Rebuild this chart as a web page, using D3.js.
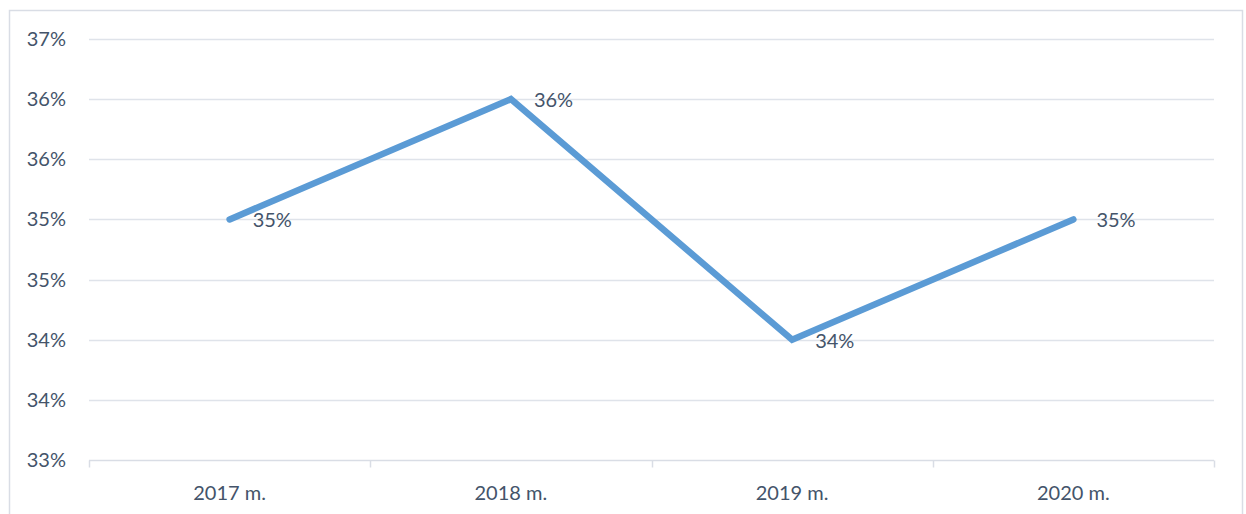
<!DOCTYPE html>
<html lang="en">
<head>
<meta charset="utf-8">
<script src="https://d3js.org/d3.v7.min.js"></script>
<style>
  body { margin: 0; background: #fff; }
  svg text { font-family: Lato, "Open Sans", sans-serif; fill: #44546a; }
</style>
</head>
<body>
<svg width="1246" height="514"></svg>
<script>
  // chart data
  var years = ["2017 m.", "2018 m.", "2019 m.", "2020 m."];
  var values = [35.0, 36.0, 34.0, 35.0];
  var valueLabels = ["35%", "36%", "34%", "35%"];
  var yTicks = [33, 33.5, 34, 34.5, 35, 35.5, 36, 36.5];
  var yTickLabels = ["33%", "34%", "34%", "35%", "35%", "36%", "36%", "37%"];

  var svg = d3.select("svg");
  var plotLeft = 89, plotRight = 1214, plotTop = 39, plotBottom = 460;
  var fontSize = "20px";

  // outer frame
  svg.append("rect")
     .attr("x", 9.5).attr("y", 10.5)
     .attr("width", 1233).attr("height", 520)
     .attr("fill", "none")
     .attr("stroke", "#d9dde5")
     .attr("stroke-width", 1.5);

  var x = d3.scaleBand().domain(years).range([plotLeft, plotRight]);
  var y = d3.scaleLinear().domain([33, 36.5]).range([plotBottom, plotTop]);

  // gridlines
  svg.append("g").selectAll("line")
     .data(yTicks.slice(1))
     .enter().append("line")
     .attr("x1", plotLeft).attr("x2", plotRight)
     .attr("y1", function (d) { return Math.round(y(d)) + 0.5; })
     .attr("y2", function (d) { return Math.round(y(d)) + 0.5; })
     .attr("stroke", "#dfe3ea")
     .attr("stroke-width", 1.5);

  // y axis labels
  svg.append("g").selectAll("text")
     .data(yTicks)
     .enter().append("text")
     .attr("x", 66)
     .attr("y", function (d) { return y(d); })
     .attr("dy", "0.35em")
     .attr("text-anchor", "end")
     .attr("font-size", fontSize)
     .text(function (d, i) { return yTickLabels[i]; });

  // x axis
  var xAxis = svg.append("g")
     .attr("transform", "translate(0," + (plotBottom + 0.5) + ")");
  xAxis.append("line")
     .attr("x1", plotLeft).attr("x2", plotRight)
     .attr("stroke", "#d9dde5").attr("stroke-width", 1.5);
  var edges = years.map(function (d) { return x(d); }).concat([plotRight]);
  xAxis.selectAll(".tick")
     .data(edges)
     .enter().append("line")
     .attr("x1", function (d) { return Math.round(d) + 0.5; })
     .attr("x2", function (d) { return Math.round(d) + 0.5; })
     .attr("y1", 0).attr("y2", 7)
     .attr("stroke", "#d9dde5").attr("stroke-width", 1.5);
  xAxis.selectAll(".lbl")
     .data(years)
     .enter().append("text")
     .attr("x", function (d) { return x(d) + x.bandwidth() / 2; })
     .attr("y", 32)
     .attr("dy", "0.35em")
     .attr("text-anchor", "middle")
     .attr("font-size", fontSize)
     .text(function (d) { return d; });

  // line
  var pts = years.map(function (d, i) { return { year: d, value: values[i], label: valueLabels[i] }; });
  var line = d3.line()
     .x(function (d) { return x(d.year) + x.bandwidth() / 2; })
     .y(function (d) { return y(d.value); });
  svg.append("path")
     .datum(pts)
     .attr("d", line)
     .attr("fill", "none")
     .attr("stroke", "#5b9bd5")
     .attr("stroke-width", 6.5)
     .attr("stroke-linecap", "round")
     .attr("stroke-linejoin", "miter");

  // value labels
  svg.append("g").selectAll("text")
     .data(pts)
     .enter().append("text")
     .attr("x", function (d) { return x(d.year) + x.bandwidth() / 2 + 23; })
     .attr("y", function (d) { return y(d.value) + 1; })
     .attr("dy", "0.35em")
     .attr("font-size", fontSize)
     .text(function (d) { return d.label; });
</script>
</body>
</html>
